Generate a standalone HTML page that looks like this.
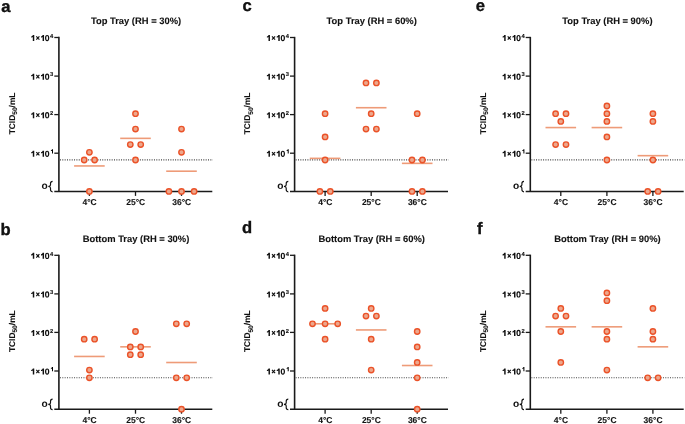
<!DOCTYPE html>
<html><head><meta charset="utf-8"><title>TCID50 panels</title><style>
html,body{margin:0;padding:0;background:#fff;}
body{width:685px;height:424px;overflow:hidden;}
svg{display:block;will-change:transform;}
text{text-rendering:geometricPrecision;font-family:"Liberation Sans",sans-serif;font-weight:bold;fill:#111;stroke:#111;stroke-width:0.1px;}
.t{font-size:9.4px;}
.yl{font-size:8.4px;}
.sub{font-size:6.6px;}
.tl{font-size:8.4px;}
.sup{font-size:5.8px;}
.xl{font-size:8.5px;}
.lt{font-size:16.6px;stroke-width:0.35px;}
.ax{stroke:#1a1a1a;stroke-width:1.3;}
.ax2{stroke:#1a1a1a;stroke-width:1.6;}
.dot{stroke:#444;stroke-width:1.05;stroke-dasharray:1 1.35;}
.mean{stroke:#EE9B78;stroke-width:1.6;}
.z{font-size:10.2px;stroke-width:0;}
.pt{fill:#EDA78C;stroke:#EB5228;stroke-width:1.4;}
</style></head>
<body>
<svg width="685" height="424" viewBox="0 0 685 424">
<defs><g id="onex" fill="#111"><path id="one" d="M0,-4.55 C0.9,-4.65 1.45,-5.2 1.65,-6 L3.05,-6 L3.05,0 L1.6,0 L1.6,-3.95 C1.15,-3.6 0.55,-3.45 0,-3.45 Z"/><path d="M5.1,-4.75 L8.2,-1.35 M8.2,-4.75 L5.1,-1.35" stroke="#111" stroke-width="1.15" fill="none"/><path transform="translate(9.8,0)" d="M0,-4.55 C0.9,-4.65 1.45,-5.2 1.65,-6 L3.05,-6 L3.05,0 L1.6,0 L1.6,-3.95 C1.15,-3.6 0.55,-3.45 0,-3.45 Z"/><path fill-rule="evenodd" d="M15.95,-6.1 C17.4,-6.1 18.1,-4.9 18.1,-2.95 C18.1,-1.0 17.4,0.15 15.95,0.15 C14.5,0.15 13.8,-1.0 13.8,-2.95 C13.8,-4.9 14.5,-6.1 15.95,-6.1 Z M15.95,-5.0 C15.3,-5.0 15.1,-4.3 15.1,-2.95 C15.1,-1.6 15.3,-0.95 15.95,-0.95 C16.6,-0.95 16.8,-1.6 16.8,-2.95 C16.8,-4.3 16.6,-5.0 15.95,-5.0 Z"/></g></defs>
<text class="lt" x="1.3" y="11.7">a</text>
<text class="lt" x="0.4" y="235.0">b</text>
<text class="lt" x="242.4" y="10.7">c</text>
<text class="lt" x="242.1" y="233.3">d</text>
<text class="lt" x="475.7" y="10.7">e</text>
<text class="lt" x="477.1" y="233.6">f</text>
<g transform="translate(0,0)">
<text class="t" x="136" y="23.9" text-anchor="middle">Top Tray (RH = 30%)</text>
<text class="yl" transform="translate(14.6,113.4) rotate(-90)" text-anchor="middle">TCID<tspan class="sub" dy="2.4">50</tspan><tspan dy="-2.4">/mL</tspan></text>
<use href="#onex" x="31.2" y="41.07"/>
<text class="sup" x="50.0" y="37.75">4</text>
<line x1="54.3" y1="37.5" x2="58.9" y2="37.5" class="ax"/>
<use href="#onex" x="31.2" y="79.67"/>
<text class="sup" x="50.0" y="76.35">3</text>
<line x1="54.3" y1="76.1" x2="58.9" y2="76.1" class="ax"/>
<use href="#onex" x="31.2" y="118.17"/>
<text class="sup" x="50.0" y="114.85">2</text>
<line x1="54.3" y1="114.6" x2="58.9" y2="114.6" class="ax"/>
<use href="#onex" x="31.2" y="156.77"/>
<use href="#one" transform="translate(50.9,153.45) scale(0.69)"/>
<line x1="54.3" y1="153.2" x2="58.9" y2="153.2" class="ax"/>
<text class="z" x="41.5" y="189.0">o</text>
<path d="M52.6,181.3 C50.8,181.3 50.5,182.1 50.5,183.6 L50.5,185.1 C50.5,186.0 49.8,186.45 48.3,186.55 C49.8,186.65 50.5,187.1 50.5,188.0 L50.5,189.6 C50.5,191.0 50.8,191.8 52.6,191.8" fill="none" stroke="#111" stroke-width="1.15"/>
<line x1="58.9" y1="36.85" x2="58.9" y2="191.4" class="ax2"/>
<line x1="54.3" y1="191.45000000000002" x2="212.3" y2="191.45000000000002" class="ax2" style="stroke-width:1.4"/>
<line x1="89.4" y1="191.4" x2="89.4" y2="195.9" class="ax"/>
<text class="xl" x="89.60000000000001" y="205" text-anchor="middle">4°C</text>
<line x1="135.5" y1="191.4" x2="135.5" y2="195.9" class="ax"/>
<text class="xl" x="135.7" y="205" text-anchor="middle">25°C</text>
<line x1="181.5" y1="191.4" x2="181.5" y2="195.9" class="ax"/>
<text class="xl" x="181.7" y="205" text-anchor="middle">36°C</text>
<line x1="59.95" y1="159.85" x2="212.9" y2="159.85" class="dot"/>
<line x1="74.10" y1="165.94" x2="104.70" y2="165.94" class="mean"/>
<circle cx="89.4" cy="152.3" r="2.7" class="pt"/>
<circle cx="84.2" cy="160.0" r="2.7" class="pt"/>
<circle cx="94.6" cy="160.0" r="2.7" class="pt"/>
<circle cx="89.4" cy="191.4" r="2.7" class="pt"/>
<line x1="120.20" y1="138.36" x2="150.80" y2="138.36" class="mean"/>
<circle cx="135.5" cy="113.7" r="2.7" class="pt"/>
<circle cx="135.5" cy="129.1" r="2.7" class="pt"/>
<circle cx="130.3" cy="144.6" r="2.7" class="pt"/>
<circle cx="140.7" cy="144.6" r="2.7" class="pt"/>
<circle cx="135.5" cy="160.0" r="2.7" class="pt"/>
<line x1="166.20" y1="171.2" x2="196.80" y2="171.2" class="mean"/>
<circle cx="181.5" cy="129.1" r="2.7" class="pt"/>
<circle cx="181.5" cy="152.3" r="2.7" class="pt"/>
<circle cx="168.9" cy="191.4" r="2.7" class="pt"/>
<circle cx="181.5" cy="191.4" r="2.7" class="pt"/>
<circle cx="194.1" cy="191.4" r="2.7" class="pt"/>
</g>
<g transform="translate(0,217.8)">
<text class="t" x="136" y="23.9" text-anchor="middle">Bottom Tray (RH = 30%)</text>
<text class="yl" transform="translate(14.6,113.4) rotate(-90)" text-anchor="middle">TCID<tspan class="sub" dy="2.4">50</tspan><tspan dy="-2.4">/mL</tspan></text>
<use href="#onex" x="31.2" y="41.07"/>
<text class="sup" x="50.0" y="37.75">4</text>
<line x1="54.3" y1="37.5" x2="58.9" y2="37.5" class="ax"/>
<use href="#onex" x="31.2" y="79.67"/>
<text class="sup" x="50.0" y="76.35">3</text>
<line x1="54.3" y1="76.1" x2="58.9" y2="76.1" class="ax"/>
<use href="#onex" x="31.2" y="118.17"/>
<text class="sup" x="50.0" y="114.85">2</text>
<line x1="54.3" y1="114.6" x2="58.9" y2="114.6" class="ax"/>
<use href="#onex" x="31.2" y="156.77"/>
<use href="#one" transform="translate(50.9,153.45) scale(0.69)"/>
<line x1="54.3" y1="153.2" x2="58.9" y2="153.2" class="ax"/>
<text class="z" x="41.5" y="189.0">o</text>
<path d="M52.6,181.3 C50.8,181.3 50.5,182.1 50.5,183.6 L50.5,185.1 C50.5,186.0 49.8,186.45 48.3,186.55 C49.8,186.65 50.5,187.1 50.5,188.0 L50.5,189.6 C50.5,191.0 50.8,191.8 52.6,191.8" fill="none" stroke="#111" stroke-width="1.15"/>
<line x1="58.9" y1="36.85" x2="58.9" y2="191.4" class="ax2"/>
<line x1="54.3" y1="191.45000000000002" x2="212.3" y2="191.45000000000002" class="ax2" style="stroke-width:1.4"/>
<line x1="89.4" y1="191.4" x2="89.4" y2="195.9" class="ax"/>
<text class="xl" x="89.60000000000001" y="205" text-anchor="middle">4°C</text>
<line x1="135.5" y1="191.4" x2="135.5" y2="195.9" class="ax"/>
<text class="xl" x="135.7" y="205" text-anchor="middle">25°C</text>
<line x1="181.5" y1="191.4" x2="181.5" y2="195.9" class="ax"/>
<text class="xl" x="181.7" y="205" text-anchor="middle">36°C</text>
<line x1="59.95" y1="159.85" x2="212.9" y2="159.85" class="dot"/>
<line x1="74.10" y1="138.66" x2="104.70" y2="138.66" class="mean"/>
<circle cx="84.2" cy="121.4" r="2.7" class="pt"/>
<circle cx="94.6" cy="121.4" r="2.7" class="pt"/>
<circle cx="89.4" cy="152.3" r="2.7" class="pt"/>
<circle cx="89.4" cy="160.0" r="2.7" class="pt"/>
<line x1="120.20" y1="129.03" x2="150.80" y2="129.03" class="mean"/>
<circle cx="135.5" cy="113.7" r="2.7" class="pt"/>
<circle cx="130.3" cy="129.1" r="2.7" class="pt"/>
<circle cx="140.7" cy="129.1" r="2.7" class="pt"/>
<circle cx="130.3" cy="136.9" r="2.7" class="pt"/>
<circle cx="140.7" cy="136.9" r="2.7" class="pt"/>
<line x1="166.20" y1="144.71" x2="196.80" y2="144.71" class="mean"/>
<circle cx="176.3" cy="106.0" r="2.7" class="pt"/>
<circle cx="186.7" cy="106.0" r="2.7" class="pt"/>
<circle cx="176.3" cy="160.0" r="2.7" class="pt"/>
<circle cx="186.7" cy="160.0" r="2.7" class="pt"/>
<circle cx="181.5" cy="191.4" r="2.7" class="pt"/>
</g>
<g transform="translate(235.7,0)">
<text class="t" x="136" y="23.9" text-anchor="middle">Top Tray (RH = 60%)</text>
<text class="yl" transform="translate(14.6,113.4) rotate(-90)" text-anchor="middle">TCID<tspan class="sub" dy="2.4">50</tspan><tspan dy="-2.4">/mL</tspan></text>
<use href="#onex" x="31.2" y="41.07"/>
<text class="sup" x="50.0" y="37.75">4</text>
<line x1="54.3" y1="37.5" x2="58.9" y2="37.5" class="ax"/>
<use href="#onex" x="31.2" y="79.67"/>
<text class="sup" x="50.0" y="76.35">3</text>
<line x1="54.3" y1="76.1" x2="58.9" y2="76.1" class="ax"/>
<use href="#onex" x="31.2" y="118.17"/>
<text class="sup" x="50.0" y="114.85">2</text>
<line x1="54.3" y1="114.6" x2="58.9" y2="114.6" class="ax"/>
<use href="#onex" x="31.2" y="156.77"/>
<use href="#one" transform="translate(50.9,153.45) scale(0.69)"/>
<line x1="54.3" y1="153.2" x2="58.9" y2="153.2" class="ax"/>
<text class="z" x="41.5" y="189.0">o</text>
<path d="M52.6,181.3 C50.8,181.3 50.5,182.1 50.5,183.6 L50.5,185.1 C50.5,186.0 49.8,186.45 48.3,186.55 C49.8,186.65 50.5,187.1 50.5,188.0 L50.5,189.6 C50.5,191.0 50.8,191.8 52.6,191.8" fill="none" stroke="#111" stroke-width="1.15"/>
<line x1="58.9" y1="36.85" x2="58.9" y2="191.4" class="ax2"/>
<line x1="54.3" y1="191.45000000000002" x2="212.3" y2="191.45000000000002" class="ax2" style="stroke-width:1.4"/>
<line x1="89.4" y1="191.4" x2="89.4" y2="195.9" class="ax"/>
<text class="xl" x="89.60000000000001" y="205" text-anchor="middle">4°C</text>
<line x1="135.5" y1="191.4" x2="135.5" y2="195.9" class="ax"/>
<text class="xl" x="135.7" y="205" text-anchor="middle">25°C</text>
<line x1="181.5" y1="191.4" x2="181.5" y2="195.9" class="ax"/>
<text class="xl" x="181.7" y="205" text-anchor="middle">36°C</text>
<line x1="59.95" y1="159.85" x2="212.9" y2="159.85" class="dot"/>
<line x1="74.10" y1="158.36" x2="104.70" y2="158.36" class="mean"/>
<circle cx="89.4" cy="113.7" r="2.7" class="pt"/>
<circle cx="89.4" cy="136.9" r="2.7" class="pt"/>
<circle cx="89.4" cy="160.0" r="2.7" class="pt"/>
<circle cx="84.2" cy="191.4" r="2.7" class="pt"/>
<circle cx="94.6" cy="191.4" r="2.7" class="pt"/>
<line x1="120.20" y1="107.72" x2="150.80" y2="107.72" class="mean"/>
<circle cx="130.3" cy="82.9" r="2.7" class="pt"/>
<circle cx="140.7" cy="82.9" r="2.7" class="pt"/>
<circle cx="135.5" cy="113.7" r="2.7" class="pt"/>
<circle cx="130.3" cy="129.1" r="2.7" class="pt"/>
<circle cx="140.7" cy="129.1" r="2.7" class="pt"/>
<line x1="166.20" y1="163.36" x2="196.80" y2="163.36" class="mean"/>
<circle cx="181.5" cy="113.7" r="2.7" class="pt"/>
<circle cx="176.3" cy="160.0" r="2.7" class="pt"/>
<circle cx="186.7" cy="160.0" r="2.7" class="pt"/>
<circle cx="176.3" cy="191.4" r="2.7" class="pt"/>
<circle cx="186.7" cy="191.4" r="2.7" class="pt"/>
</g>
<g transform="translate(235.7,217.8)">
<text class="t" x="136" y="23.9" text-anchor="middle">Bottom Tray (RH = 60%)</text>
<text class="yl" transform="translate(14.6,113.4) rotate(-90)" text-anchor="middle">TCID<tspan class="sub" dy="2.4">50</tspan><tspan dy="-2.4">/mL</tspan></text>
<use href="#onex" x="31.2" y="41.07"/>
<text class="sup" x="50.0" y="37.75">4</text>
<line x1="54.3" y1="37.5" x2="58.9" y2="37.5" class="ax"/>
<use href="#onex" x="31.2" y="79.67"/>
<text class="sup" x="50.0" y="76.35">3</text>
<line x1="54.3" y1="76.1" x2="58.9" y2="76.1" class="ax"/>
<use href="#onex" x="31.2" y="118.17"/>
<text class="sup" x="50.0" y="114.85">2</text>
<line x1="54.3" y1="114.6" x2="58.9" y2="114.6" class="ax"/>
<use href="#onex" x="31.2" y="156.77"/>
<use href="#one" transform="translate(50.9,153.45) scale(0.69)"/>
<line x1="54.3" y1="153.2" x2="58.9" y2="153.2" class="ax"/>
<text class="z" x="41.5" y="189.0">o</text>
<path d="M52.6,181.3 C50.8,181.3 50.5,182.1 50.5,183.6 L50.5,185.1 C50.5,186.0 49.8,186.45 48.3,186.55 C49.8,186.65 50.5,187.1 50.5,188.0 L50.5,189.6 C50.5,191.0 50.8,191.8 52.6,191.8" fill="none" stroke="#111" stroke-width="1.15"/>
<line x1="58.9" y1="36.85" x2="58.9" y2="191.4" class="ax2"/>
<line x1="54.3" y1="191.45000000000002" x2="212.3" y2="191.45000000000002" class="ax2" style="stroke-width:1.4"/>
<line x1="89.4" y1="191.4" x2="89.4" y2="195.9" class="ax"/>
<text class="xl" x="89.60000000000001" y="205" text-anchor="middle">4°C</text>
<line x1="135.5" y1="191.4" x2="135.5" y2="195.9" class="ax"/>
<text class="xl" x="135.7" y="205" text-anchor="middle">25°C</text>
<line x1="181.5" y1="191.4" x2="181.5" y2="195.9" class="ax"/>
<text class="xl" x="181.7" y="205" text-anchor="middle">36°C</text>
<line x1="59.95" y1="159.85" x2="212.9" y2="159.85" class="dot"/>
<line x1="74.10" y1="106.0" x2="104.70" y2="106.0" class="mean"/>
<circle cx="89.4" cy="90.6" r="2.7" class="pt"/>
<circle cx="76.8" cy="106.0" r="2.7" class="pt"/>
<circle cx="89.4" cy="106.0" r="2.7" class="pt"/>
<circle cx="102.0" cy="106.0" r="2.7" class="pt"/>
<circle cx="89.4" cy="121.4" r="2.7" class="pt"/>
<line x1="120.20" y1="112.14" x2="150.80" y2="112.14" class="mean"/>
<circle cx="135.5" cy="90.6" r="2.7" class="pt"/>
<circle cx="130.3" cy="98.3" r="2.7" class="pt"/>
<circle cx="140.7" cy="98.3" r="2.7" class="pt"/>
<circle cx="135.5" cy="121.4" r="2.7" class="pt"/>
<circle cx="135.5" cy="152.3" r="2.7" class="pt"/>
<line x1="166.20" y1="147.71" x2="196.80" y2="147.71" class="mean"/>
<circle cx="181.5" cy="113.7" r="2.7" class="pt"/>
<circle cx="181.5" cy="129.1" r="2.7" class="pt"/>
<circle cx="181.5" cy="144.6" r="2.7" class="pt"/>
<circle cx="181.5" cy="160.0" r="2.7" class="pt"/>
<circle cx="181.5" cy="191.4" r="2.7" class="pt"/>
</g>
<g transform="translate(471.4,0)">
<text class="t" x="136" y="23.9" text-anchor="middle">Top Tray (RH = 90%)</text>
<text class="yl" transform="translate(14.6,113.4) rotate(-90)" text-anchor="middle">TCID<tspan class="sub" dy="2.4">50</tspan><tspan dy="-2.4">/mL</tspan></text>
<use href="#onex" x="31.2" y="41.07"/>
<text class="sup" x="50.0" y="37.75">4</text>
<line x1="54.3" y1="37.5" x2="58.9" y2="37.5" class="ax"/>
<use href="#onex" x="31.2" y="79.67"/>
<text class="sup" x="50.0" y="76.35">3</text>
<line x1="54.3" y1="76.1" x2="58.9" y2="76.1" class="ax"/>
<use href="#onex" x="31.2" y="118.17"/>
<text class="sup" x="50.0" y="114.85">2</text>
<line x1="54.3" y1="114.6" x2="58.9" y2="114.6" class="ax"/>
<use href="#onex" x="31.2" y="156.77"/>
<use href="#one" transform="translate(50.9,153.45) scale(0.69)"/>
<line x1="54.3" y1="153.2" x2="58.9" y2="153.2" class="ax"/>
<text class="z" x="41.5" y="189.0">o</text>
<path d="M52.6,181.3 C50.8,181.3 50.5,182.1 50.5,183.6 L50.5,185.1 C50.5,186.0 49.8,186.45 48.3,186.55 C49.8,186.65 50.5,187.1 50.5,188.0 L50.5,189.6 C50.5,191.0 50.8,191.8 52.6,191.8" fill="none" stroke="#111" stroke-width="1.15"/>
<line x1="58.9" y1="36.85" x2="58.9" y2="191.4" class="ax2"/>
<line x1="54.3" y1="191.45000000000002" x2="212.3" y2="191.45000000000002" class="ax2" style="stroke-width:1.4"/>
<line x1="89.4" y1="191.4" x2="89.4" y2="195.9" class="ax"/>
<text class="xl" x="89.60000000000001" y="205" text-anchor="middle">4°C</text>
<line x1="135.5" y1="191.4" x2="135.5" y2="195.9" class="ax"/>
<text class="xl" x="135.7" y="205" text-anchor="middle">25°C</text>
<line x1="181.5" y1="191.4" x2="181.5" y2="195.9" class="ax"/>
<text class="xl" x="181.7" y="205" text-anchor="middle">36°C</text>
<line x1="59.95" y1="159.85" x2="212.9" y2="159.85" class="dot"/>
<line x1="74.10" y1="127.57" x2="104.70" y2="127.57" class="mean"/>
<circle cx="84.2" cy="113.7" r="2.7" class="pt"/>
<circle cx="94.6" cy="113.7" r="2.7" class="pt"/>
<circle cx="89.4" cy="121.4" r="2.7" class="pt"/>
<circle cx="84.2" cy="144.6" r="2.7" class="pt"/>
<circle cx="94.6" cy="144.6" r="2.7" class="pt"/>
<line x1="120.20" y1="127.57" x2="150.80" y2="127.57" class="mean"/>
<circle cx="135.5" cy="106.0" r="2.7" class="pt"/>
<circle cx="135.5" cy="113.7" r="2.7" class="pt"/>
<circle cx="135.5" cy="121.4" r="2.7" class="pt"/>
<circle cx="135.5" cy="136.9" r="2.7" class="pt"/>
<circle cx="135.5" cy="160.0" r="2.7" class="pt"/>
<line x1="166.20" y1="155.67" x2="196.80" y2="155.67" class="mean"/>
<circle cx="181.5" cy="113.7" r="2.7" class="pt"/>
<circle cx="181.5" cy="121.4" r="2.7" class="pt"/>
<circle cx="181.5" cy="160.0" r="2.7" class="pt"/>
<circle cx="176.3" cy="191.4" r="2.7" class="pt"/>
<circle cx="186.7" cy="191.4" r="2.7" class="pt"/>
</g>
<g transform="translate(471.4,217.8)">
<text class="t" x="136" y="23.9" text-anchor="middle">Bottom Tray (RH = 90%)</text>
<text class="yl" transform="translate(14.6,113.4) rotate(-90)" text-anchor="middle">TCID<tspan class="sub" dy="2.4">50</tspan><tspan dy="-2.4">/mL</tspan></text>
<use href="#onex" x="31.2" y="41.07"/>
<text class="sup" x="50.0" y="37.75">4</text>
<line x1="54.3" y1="37.5" x2="58.9" y2="37.5" class="ax"/>
<use href="#onex" x="31.2" y="79.67"/>
<text class="sup" x="50.0" y="76.35">3</text>
<line x1="54.3" y1="76.1" x2="58.9" y2="76.1" class="ax"/>
<use href="#onex" x="31.2" y="118.17"/>
<text class="sup" x="50.0" y="114.85">2</text>
<line x1="54.3" y1="114.6" x2="58.9" y2="114.6" class="ax"/>
<use href="#onex" x="31.2" y="156.77"/>
<use href="#one" transform="translate(50.9,153.45) scale(0.69)"/>
<line x1="54.3" y1="153.2" x2="58.9" y2="153.2" class="ax"/>
<text class="z" x="41.5" y="189.0">o</text>
<path d="M52.6,181.3 C50.8,181.3 50.5,182.1 50.5,183.6 L50.5,185.1 C50.5,186.0 49.8,186.45 48.3,186.55 C49.8,186.65 50.5,187.1 50.5,188.0 L50.5,189.6 C50.5,191.0 50.8,191.8 52.6,191.8" fill="none" stroke="#111" stroke-width="1.15"/>
<line x1="58.9" y1="36.85" x2="58.9" y2="191.4" class="ax2"/>
<line x1="54.3" y1="191.45000000000002" x2="212.3" y2="191.45000000000002" class="ax2" style="stroke-width:1.4"/>
<line x1="89.4" y1="191.4" x2="89.4" y2="195.9" class="ax"/>
<text class="xl" x="89.60000000000001" y="205" text-anchor="middle">4°C</text>
<line x1="135.5" y1="191.4" x2="135.5" y2="195.9" class="ax"/>
<text class="xl" x="135.7" y="205" text-anchor="middle">25°C</text>
<line x1="181.5" y1="191.4" x2="181.5" y2="195.9" class="ax"/>
<text class="xl" x="181.7" y="205" text-anchor="middle">36°C</text>
<line x1="59.95" y1="159.85" x2="212.9" y2="159.85" class="dot"/>
<line x1="74.10" y1="109.03" x2="104.70" y2="109.03" class="mean"/>
<circle cx="89.4" cy="90.6" r="2.7" class="pt"/>
<circle cx="84.2" cy="98.3" r="2.7" class="pt"/>
<circle cx="94.6" cy="98.3" r="2.7" class="pt"/>
<circle cx="89.4" cy="113.7" r="2.7" class="pt"/>
<circle cx="89.4" cy="144.6" r="2.7" class="pt"/>
<line x1="120.20" y1="109.03" x2="150.80" y2="109.03" class="mean"/>
<circle cx="135.5" cy="75.1" r="2.7" class="pt"/>
<circle cx="135.5" cy="82.9" r="2.7" class="pt"/>
<circle cx="135.5" cy="113.7" r="2.7" class="pt"/>
<circle cx="135.5" cy="121.4" r="2.7" class="pt"/>
<circle cx="135.5" cy="152.3" r="2.7" class="pt"/>
<line x1="166.20" y1="129.03" x2="196.80" y2="129.03" class="mean"/>
<circle cx="181.5" cy="90.6" r="2.7" class="pt"/>
<circle cx="181.5" cy="113.7" r="2.7" class="pt"/>
<circle cx="181.5" cy="121.4" r="2.7" class="pt"/>
<circle cx="176.3" cy="160.0" r="2.7" class="pt"/>
<circle cx="186.7" cy="160.0" r="2.7" class="pt"/>
</g>
</svg>
</body></html>
